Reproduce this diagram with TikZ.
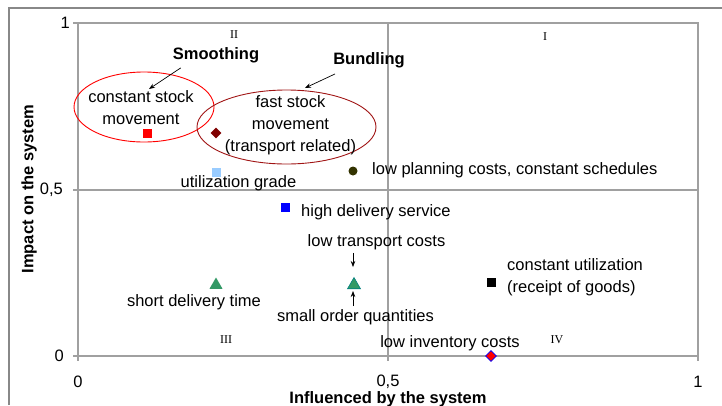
\documentclass[tikz,border=0pt]{standalone}
\usepackage{fontspec}
\setmainfont{Liberation Sans}
\newfontfamily\romanfont{Liberation Serif}
\usetikzlibrary{arrows.meta,shapes.geometric}
\definecolor{axisgray}{RGB}{160,160,160}
\definecolor{framegray}{RGB}{136,136,136}
\definecolor{darkred}{RGB}{128,0,0}
\definecolor{ellred}{RGB}{160,20,20}
\definecolor{lightblue}{RGB}{153,204,255}
\definecolor{olive}{RGB}{51,51,0}
\definecolor{xlgreen}{RGB}{51,153,102}
\tikzset{
  lbl/.style={font=\fontsize{16.5}{22}\selectfont, inner sep=0pt, align=center},
  lbll/.style={font=\fontsize{16.5}{22}\selectfont, inner sep=0pt, align=left, anchor=west},
  blbl/.style={font=\bfseries\fontsize{16.5}{22}\selectfont, inner sep=0pt},
  rom/.style={font=\romanfont\fontsize{12}{14}\selectfont, inner sep=0pt},
  tick/.style={font=\fontsize{16.5}{20}\selectfont, inner sep=0pt},
  ax/.style={draw=axisgray, line width=1.4pt},
  sqmark/.style={rectangle, minimum size=9pt, inner sep=0pt},
  dmmark/.style={diamond, minimum size=11pt, inner sep=0pt},
  trmark/.style={regular polygon, regular polygon sides=3, minimum size=15pt, inner sep=0pt},
  pointer/.style={-{Stealth[length=6pt,width=4.5pt]}, line width=0.7pt},
}
\begin{document}
\begin{tikzpicture}[x=1pt,y=-1pt]
\useasboundingbox (0,0) rectangle (722,405);
% outer frame
\draw[framegray, line width=1.4pt] (9,405) -- (9,8) -- (722,8);
% plot frame and quadrant lines
\draw[ax] (78,23) -- (698,23) -- (698,361);
\draw[ax] (78,23) -- (78,361);
\draw[ax] (73,356) -- (698,356);
\draw[ax] (388,23) -- (388,361);
\draw[ax] (78,190) -- (698,190);
\draw[ax] (73,23) -- (78,23);
\draw[ax] (73,190) -- (78,190);
% tick labels
\node[tick, anchor=east] (y1) at (70,23) {1};
\node[tick, anchor=east] (y05) at (63,190) {0,5};
\node[tick, anchor=east] (y0) at (64,356) {0};
\node[tick] (x0) at (78,382) {0};
\node[tick] (x05) at (388,382) {0,5};
\node[tick] (x1) at (698,382) {1};
% axis titles
\node[blbl] (xt) at (388,399) {Influenced by the system};
\node[blbl, rotate=90] (yt) at (29,189) {Impact on the system};
% quadrant numerals
\node[rom] (q2) at (234,35) {II};
\node[rom] (q1) at (545,37) {I};
\node[rom] (q3) at (226,340) {III};
\node[rom] (q4) at (557,340) {IV};
% ellipses
\draw[red, line width=0.9pt] (144,107) ellipse [x radius=70, y radius=35];
\draw[ellred, line width=0.9pt] (286.5,127) ellipse [x radius=89.5, y radius=37];
% markers
\node[sqmark, fill=red] (p1) at (147,133) {};
\node[dmmark, fill=darkred] (p2) at (216,133) {};
\node[sqmark, fill=lightblue] (p3) at (216,172) {};
\node[circle, fill=olive, minimum size=9pt, inner sep=0pt] (p4) at (353,171) {};
\node[sqmark, fill=blue] (p5) at (285,207) {};
\node[trmark, fill=xlgreen] (p6) at (216,285) {};
\node[trmark, fill=xlgreen, draw=teal, line width=0.6pt] (p7) at (354,285) {};
\node[sqmark, fill=black] (p8) at (491,282) {};
\node[dmmark, fill=red, draw=blue, line width=0.8pt] (p9) at (491,356) {};
% labels
\node[lbl] (l1) at (141,108) {constant stock\\movement};
\node[lbl] (l2) at (290.5,125) {fast stock\\movement\\(transport related)};
\node[lbl] (l3) at (238.5,183) {utilization grade};
\node[lbll] (l4) at (372,170) {low planning costs, constant schedules};
\node[lbll] (l5) at (301,212) {high delivery service};
\node[lbl] (l6) at (376.5,242) {low transport costs};
\node[lbl] (l7) at (194,302) {short delivery time};
\node[lbl] (l8) at (355.5,317) {small order quantities};
\node[lbl] (l9) at (450,343) {low inventory costs};
\node[lbll] (l10) at (507,277) {constant utilization\\(receipt of goods)};
% bold group labels
\node[blbl] (sm) at (216,55) {Smoothing};
\node[blbl] (bu) at (369,60) {Bundling};
% arrows
\coordinate (sma) at (149,89);
\coordinate (bua) at (305,88);
\draw[pointer] (sm.south west) ++(8,5) -- (sma);
\draw[pointer] (bu.south west) ++(2,6) -- (bua);
\coordinate (ta) at (353,267);
\coordinate (tb) at (353,291);
\draw[pointer] (l6.south -| ta) ++(0,3) -- (ta);
\draw[pointer] (l8.north -| tb) ++(0,-3) -- (tb);
\end{tikzpicture}
\end{document}
